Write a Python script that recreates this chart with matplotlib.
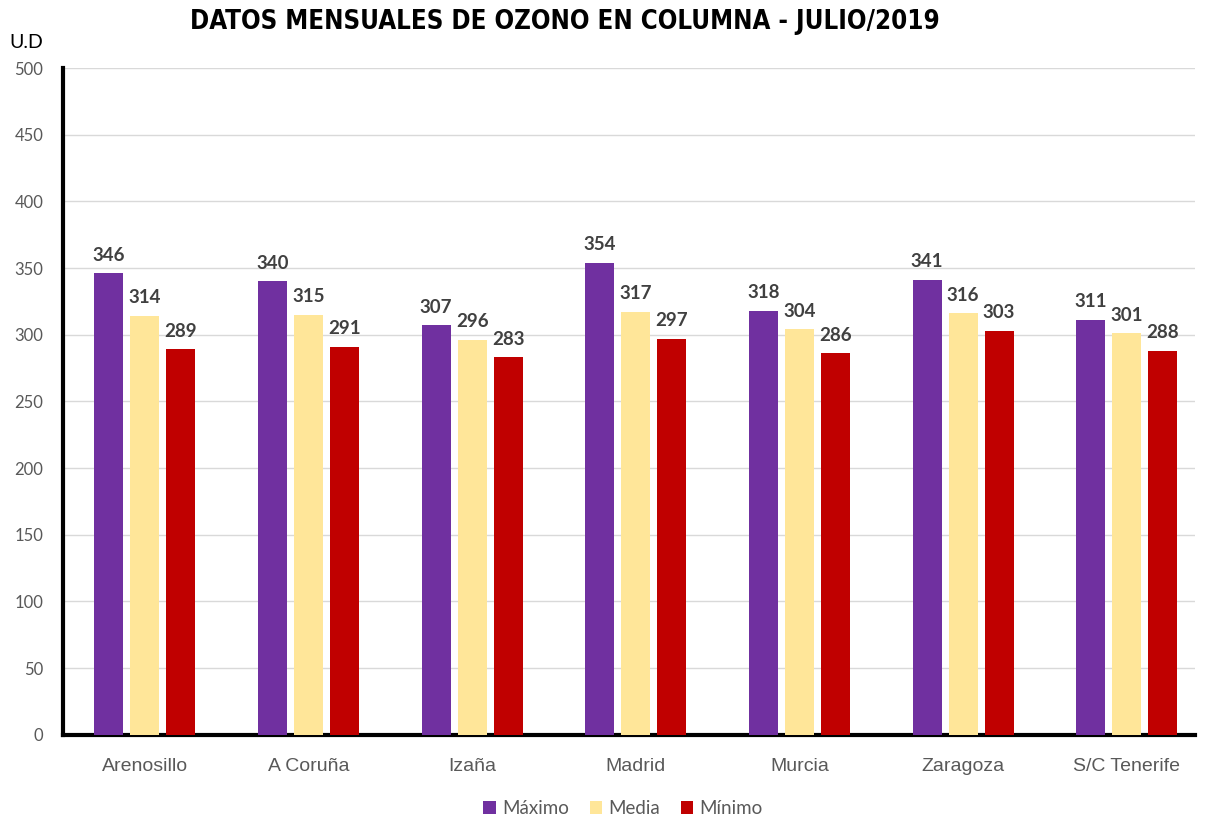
import numpy as np
import matplotlib.pyplot as plt

# Datos
estaciones = ['Arenosillo', 'A Coruña', 'Izaña', 'Madrid', 'Murcia', 'Zaragoza', 'S/C Tenerife']
maximo = [346, 340, 307, 354, 318, 341, 311]
media = [314, 315, 296, 317, 304, 316, 301]
minimo = [289, 291, 283, 297, 286, 303, 288]

series = [('Máximo', maximo, '#7030A0'),
          ('Media', media, '#FFE699'),
          ('Mínimo', minimo, '#C00000')]

fig = plt.figure(figsize=(12.1, 8.21), dpi=100)
ax = fig.add_axes([0.052, 0.105, 0.936, 0.812])

x = np.arange(len(estaciones))
ancho = 0.177
paso = 0.22

for i, (nombre, valores, color) in enumerate(series):
    barras = ax.bar(x + (i - 1) * paso, valores, ancho, color=color, label=nombre, zorder=3)
    ax.bar_label(barras, padding=7, fontsize=13.5, fontweight='bold', color='#404040',
                 family=['Lato', 'DejaVu Sans'])

ax.set_ylim(0, 500)
ax.set_yticks(range(0, 501, 50))
ax.set_xlim(-0.5, 6.42)
ax.set_xticks(x)
ax.set_xticklabels(estaciones, fontsize=14, color='#595959', family=['Liberation Sans', 'DejaVu Sans'])
for t in ax.get_yticklabels():
    t.set_family(['Lato', 'DejaVu Sans'])
ax.tick_params(axis='y', labelsize=12, labelcolor='#595959', length=0, pad=14)
ax.tick_params(axis='x', length=0, pad=17)
ax.grid(axis='y', color='#d9d9d9', linewidth=1, zorder=0)

for lado in ['top', 'right']:
    ax.spines[lado].set_visible(False)
ax.spines['left'].set_linewidth(3)
ax.spines['bottom'].set_linewidth(3)
ax.spines['left'].set_color('black')
ax.spines['bottom'].set_color('black')

fig.text(0.467, 0.973, 'DATOS MENSUALES DE OZONO EN COLUMNA - JULIO/2019',
         ha='center', va='center', fontsize=18.5, fontweight='bold', fontstretch='condensed',
         family=['Liberation Sans Narrow', 'DejaVu Sans'])
fig.text(0.008, 0.948, 'U.D', fontsize=14, va='center', color='black',
         family=['Lato', 'DejaVu Sans'])

fig.legend(loc='lower center', bbox_to_anchor=(0.515, -0.016), ncol=3, frameon=False,
           prop={'family': ['Lato', 'DejaVu Sans'], 'size': 13.5},
           handlelength=0.65, handleheight=0.65, handletextpad=0.35,
           columnspacing=1.1, labelcolor='#595959')

plt.savefig('out.png', dpi=100)
